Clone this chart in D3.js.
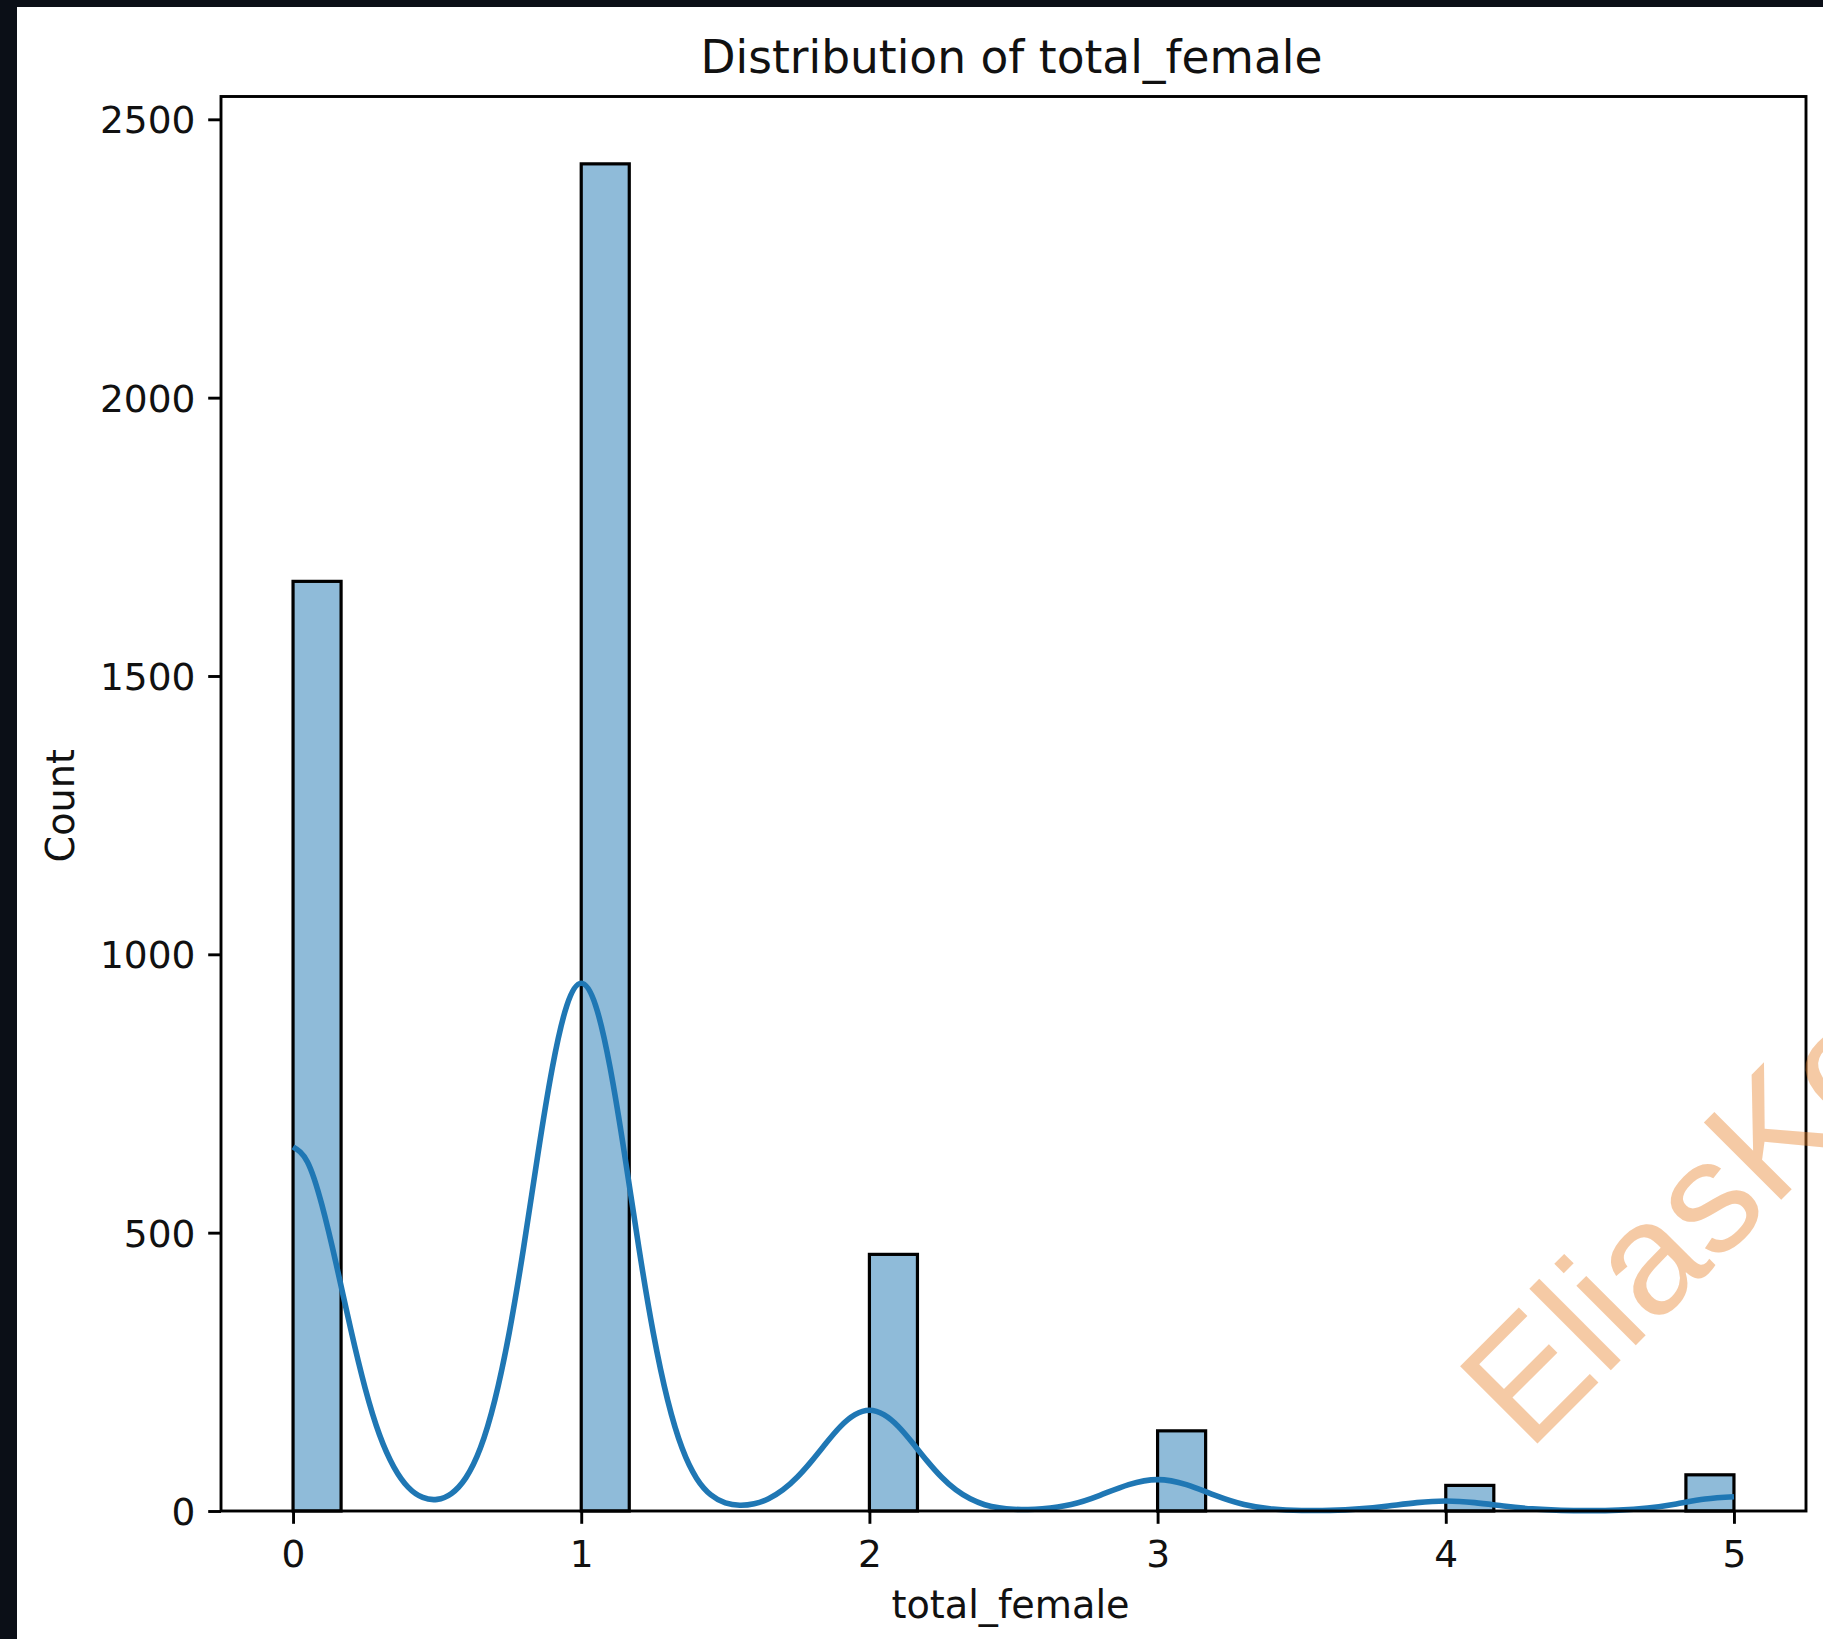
<!DOCTYPE html>
<html>
<head>
<meta charset="utf-8">
<script src="https://cdn.jsdelivr.net/npm/d3@7"></script>
<style>
  html, body { margin: 0; padding: 0; background: #ffffff; }
  svg { display: block; }
</style>
</head>
<body>
<svg id="chart" width="1823" height="1639"></svg>
<script>
// ---------------- data ----------------
const categories = [0, 1, 2, 3, 4, 5];
const counts = [1670, 2420, 461, 144, 46, 65];
const binStart = [0, 1, 2, 3, 4, 4.8333];
const binEnd = [0.1667, 1.1667, 2.1667, 3.1667, 4.1667, 5];

const xTicks = [0, 1, 2, 3, 4, 5];
const yTicks = [0, 500, 1000, 1500, 2000, 2500];

// KDE curve
const kdeX = [0, 0.05, 0.1, 0.15, 0.2, 0.25, 0.3, 0.35, 0.4, 0.45, 0.5, 0.55, 0.6, 0.65, 0.7, 0.75, 0.8, 0.85, 0.9, 0.95,
  1.0, 1.05, 1.1, 1.15, 1.2, 1.25, 1.3, 1.35, 1.4, 1.45, 1.5, 1.55, 1.6, 1.65, 1.7, 1.75, 1.8, 1.85, 1.9, 1.95,
  2.0, 2.05, 2.1, 2.15, 2.2, 2.25, 2.3, 2.35, 2.4, 2.45, 2.5, 2.55, 2.6, 2.7, 2.8, 2.9,
  3.0, 3.1, 3.2, 3.3, 3.4, 3.5, 3.6, 3.7, 3.8, 3.9,
  4.0, 4.1, 4.2, 4.3, 4.4, 4.5, 4.6, 4.7, 4.8, 4.9, 5.0];
const kdeY = [654, 627, 550, 443, 327, 221, 137, 79, 42.5, 24.4, 20.9, 31.6, 60, 113, 199, 320, 473, 642, 797, 908,
  948, 908, 797, 642, 473, 320, 199, 113, 59, 29, 14.7, 10.4, 13, 22, 38, 61, 90, 122, 152, 173,
  181, 173, 152, 122, 90, 61, 38, 21.8, 11.3, 5.7, 3.1, 2.6, 3.9, 11.8, 28.2, 47.4,
  56.4, 47.4, 28.2, 11.8, 3.5, 1.0, 1.2, 3.8, 9.0, 15.1,
  18.0, 15.1, 9.0, 3.8, 1.2, 0.6, 1.6, 5.3, 12.7, 21.4, 25.5];

const titleText = "Distribution of total_female";
const xLabelText = "total_female";
const yLabelText = "Count";
const watermarkText = "EliasKo";

// ---------------- layout ----------------
const W = 1823, H = 1639;
const plot = { left: 221, right: 1806, top: 96.5, bottom: 1511 };
const fontFamily = "'DejaVu Sans', sans-serif";
const tickFont = 37.5;
const labelFont = 38.2;
const titleFont = 45.5;
const tickLen = 12.8;
const lw = 2.9;

const svg = d3.select("#chart");

// background & dark frame (screenshot edges)
svg.append("rect").attr("x", 0).attr("y", 0).attr("width", W).attr("height", H).attr("fill", "#ffffff");
svg.append("rect").attr("x", 0).attr("y", 0).attr("width", W).attr("height", 7).attr("fill", "#0b0f17");
svg.append("rect").attr("x", 0).attr("y", 0).attr("width", 17).attr("height", H).attr("fill", "#0b0f17");

const x = d3.scaleLinear().domain([-0.25, 5.25]).range([plot.left, plot.right]);
const y = d3.scaleLinear().domain([0, 2541]).range([plot.bottom, plot.top]);

// bars
const bars = categories.map((c, i) => ({ c, count: counts[i], x0: binStart[i], x1: binEnd[i] }));
svg.append("g").selectAll("rect").data(bars).join("rect")
  .attr("x", d => x(d.x0))
  .attr("width", d => x(d.x1) - x(d.x0))
  .attr("y", d => y(d.count))
  .attr("height", d => y(0) - y(d.count))
  .attr("fill", "#1f77b4")
  .attr("fill-opacity", 0.5)
  .attr("stroke", "#000000")
  .attr("stroke-width", 3.2);

// KDE line
const kdePts = kdeX.map((v, i) => [v, kdeY[i]]);
const line = d3.line().x(d => x(d[0])).y(d => y(d[1])).curve(d3.curveNatural);
svg.append("path").datum(kdePts)
  .attr("d", line)
  .attr("fill", "none")
  .attr("stroke", "#1f77b4")
  .attr("stroke-width", 5.6)
  .attr("stroke-linejoin", "round");

// axes
const xAxis = d3.axisBottom(x).tickValues(xTicks).tickFormat(d3.format("d")).tickSize(tickLen).tickSizeOuter(0);
const gx = svg.append("g").attr("transform", `translate(0,${plot.bottom})`).call(xAxis);
gx.select(".domain").remove();
gx.selectAll(".tick line").attr("stroke", "#000").attr("stroke-width", lw);
gx.selectAll(".tick text")
  .attr("y", 0).attr("dy", 0)
  .attr("transform", `translate(0,${1567 - plot.bottom})`)
  .attr("fill", "#111")
  .style("font-family", fontFamily).style("font-size", tickFont + "px");

const yAxis = d3.axisLeft(y).tickValues(yTicks).tickFormat(d3.format("d")).tickSize(tickLen).tickSizeOuter(0);
const gy = svg.append("g").attr("transform", `translate(${plot.left},0)`).call(yAxis);
gy.select(".domain").remove();
gy.selectAll(".tick line").attr("stroke", "#000").attr("stroke-width", lw);
gy.selectAll(".tick text")
  .attr("x", -(tickLen + 12.8)).attr("dy", 0)
  .attr("transform", "translate(0,13.5)")
  .attr("fill", "#111")
  .style("font-family", fontFamily).style("font-size", tickFont + "px");

// spines
svg.append("rect")
  .attr("x", plot.left).attr("y", plot.top)
  .attr("width", plot.right - plot.left).attr("height", plot.bottom - plot.top)
  .attr("fill", "none").attr("stroke", "#000").attr("stroke-width", lw);

// title & labels
const cx = (plot.left + plot.right) / 2;
svg.append("text").attr("x", cx - 2).attr("y", 73)
  .attr("text-anchor", "middle").attr("fill", "#111")
  .style("font-family", fontFamily).style("font-size", titleFont + "px")
  .text(titleText);

svg.append("text").attr("x", cx - 3).attr("y", 1618)
  .attr("text-anchor", "middle").attr("fill", "#111")
  .style("font-family", fontFamily).style("font-size", labelFont + "px")
  .text(xLabelText);

svg.append("text")
  .attr("transform", `translate(74,${(plot.top + plot.bottom) / 2 + 2}) rotate(-90)`)
  .attr("text-anchor", "middle").attr("fill", "#111")
  .style("font-family", fontFamily).style("font-size", labelFont + "px")
  .text(yLabelText);

// watermark
svg.append("text")
  .attr("transform", "translate(1528.3,1452.7) rotate(-45)")
  .attr("fill", "rgb(232,128,40)")
  .attr("fill-opacity", 0.42)
  .style("font-family", "'Liberation Sans', Arial, sans-serif")
  .style("font-size", "159px")
  .text(watermarkText);
</script>
</body>
</html>
